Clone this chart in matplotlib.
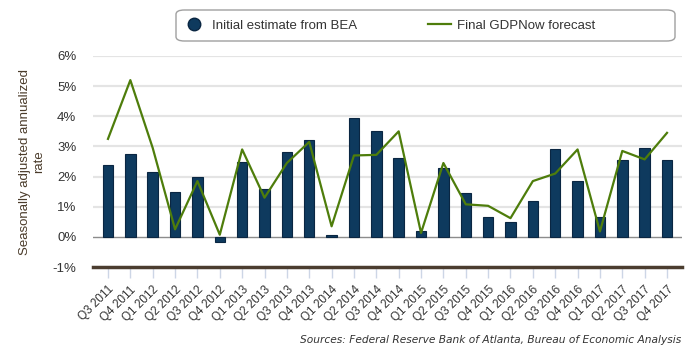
import numpy as np
import matplotlib
matplotlib.use("Agg")
import matplotlib.pyplot as plt
from matplotlib.patches import FancyBboxPatch
from matplotlib.lines import Line2D

quarters = ["Q3 2011", "Q4 2011", "Q1 2012", "Q2 2012", "Q3 2012", "Q4 2012",
            "Q1 2013", "Q2 2013", "Q3 2013", "Q4 2013", "Q1 2014", "Q2 2014",
            "Q3 2014", "Q4 2014", "Q1 2015", "Q2 2015", "Q3 2015", "Q4 2015",
            "Q1 2016", "Q2 2016", "Q3 2016", "Q4 2016", "Q1 2017", "Q2 2017",
            "Q3 2017", "Q4 2017"]
initial_bea = [2.4, 2.75, 2.15, 1.5, 2.0, -0.18, 2.5, 1.6, 2.8, 3.2, 0.07, 3.95,
               3.5, 2.6, 0.2, 2.3, 1.45, 0.65, 0.5, 1.2, 2.9, 1.85, 0.65, 2.55,
               2.95, 2.55]
gdpnow = [3.25, 5.2, 2.95, 0.25, 1.85, 0.07, 2.9, 1.3, 2.45, 3.15, 0.35, 2.7,
          2.72, 3.5, 0.13, 2.45, 1.08, 1.03, 0.62, 1.85, 2.1, 2.9, 0.18, 2.85,
          2.57, 3.45]
yticks = [-1, 0, 1, 2, 3, 4, 5, 6]

bar_color = "#0e3a5e"
line_color = "#4e7d0b"
font = "Liberation Sans"

fig = plt.figure(figsize=(7, 3.56), dpi=100)
ax = fig.add_axes([93 / 700, 1 - 267 / 356, 589 / 700, 211 / 356])

x = np.arange(len(quarters))
for v in range(1, 7):
    ax.axhline(v, color="#e4e4e4", lw=1.6, zorder=0)
ax.axhline(0, color="#8c8c8c", lw=1.0, zorder=1)

ax.bar(x, initial_bea, width=0.47, color=bar_color, edgecolor="#0a2642",
       linewidth=0.8, zorder=2)
ax.plot(x, gdpnow, color=line_color, lw=1.6, zorder=3)

ax.set_xlim(-0.67, len(quarters) - 1 + 0.67)
ax.set_ylim(-1, 6)
ax.set_yticks(yticks)
ax.set_yticklabels([f"{v}%" for v in yticks], fontsize=9.5, color="#333333",
                   family=font)
ax.set_xticks(x)
ax.set_xticklabels(quarters, rotation=45, ha="right", rotation_mode="anchor",
                   fontsize=8.5, color="#333333", family=font)
ax.tick_params(axis="y", length=0, pad=12)
ax.tick_params(axis="x", length=8, width=1, color="#cdd6e6", pad=4)
for s in ["top", "right", "left"]:
    ax.spines[s].set_visible(False)
ax.spines["bottom"].set_color("#4b3d2f")
ax.spines["bottom"].set_linewidth(2.5)

fig.text(32 / 700, 1 - 162 / 356, "Seasonally adjusted annualized\nrate",
         rotation=90, ha="center", va="center", multialignment="center",
         fontsize=9.5, color="#4a3b2a", family=font, linespacing=1.3)

# legend frame
frame = FancyBboxPatch((176 / 700, 1 - 41 / 356), 499 / 700, 31 / 356,
                       boxstyle="round,pad=0,rounding_size=0.012",
                       transform=fig.transFigure, facecolor="white",
                       edgecolor="#a0a0a0", lw=1.0)
fig.patches.append(frame)
handles = [Line2D([], [], marker="o", ls="none", markersize=9,
                  markerfacecolor=bar_color, markeredgecolor="#0a2642"),
           Line2D([], [], color=line_color, lw=1.6)]
fig.legend(handles, ["Initial estimate from BEA", "Final GDPNow forecast"],
           loc="center left", bbox_to_anchor=(171 / 700, 1 - 25.5 / 356),
           ncol=2, frameon=False, handlelength=1.7, handletextpad=0.5,
           columnspacing=5.4, prop={"family": font, "size": 9.5},
           labelcolor="#333333")

fig.text(681 / 700, 1 - 340 / 356,
         "Sources: Federal Reserve Bank of Atlanta, Bureau of Economic Analysis",
         ha="right", va="center", fontsize=7.65, style="italic",
         color="#333333", family="DejaVu Sans")

fig.savefig("out.png", dpi=100)
